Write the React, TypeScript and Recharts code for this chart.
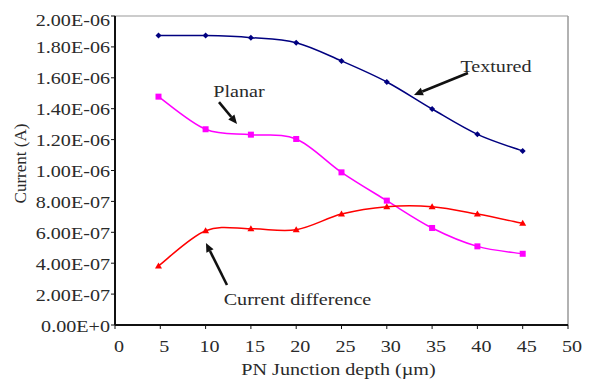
import {
  LineChart,
  Line,
  XAxis,
  YAxis,
  ReferenceLine,
  ReferenceDot,
  Label,
} from "recharts";

// PN junction depth (µm)
const depth = [4.8, 10, 15, 20, 25, 30, 35, 40, 45];
// currents (A)
const textured = [1.873e-6, 1.873e-6, 1.86e-6, 1.827e-6, 1.709e-6, 1.573e-6, 1.398e-6, 1.234e-6, 1.126e-6];
const planar = [1.478e-6, 1.267e-6, 1.232e-6, 1.204e-6, 0.988e-6, 0.805e-6, 0.628e-6, 0.509e-6, 0.461e-6];
const currentDiff = [0.382e-6, 0.61e-6, 0.623e-6, 0.617e-6, 0.718e-6, 0.766e-6, 0.766e-6, 0.718e-6, 0.658e-6];

const xTicks = [0, 5, 10, 15, 20, 25, 30, 35, 40, 45, 50];
const yTicks = [0, 2e-7, 4e-7, 6e-7, 8e-7, 1e-6, 1.2e-6, 1.4e-6, 1.6e-6, 1.8e-6, 2e-6];
const yTickLabels = [
  "0.00E+0",
  "2.00E-07",
  "4.00E-07",
  "6.00E-07",
  "8.00E-07",
  "1.00E-06",
  "1.20E-06",
  "1.40E-06",
  "1.60E-06",
  "1.80E-06",
  "2.00E-06",
];

// callouts: text position and arrow (from -> to), in data units
const callouts = [
  { text: "Textured", tx: 42.05, ty: 1.638e-6, from: [38.96, 1.631e-6], to: [33.0, 1.489e-6] },
  { text: "Planar", tx: 13.69, ty: 1.476e-6, from: [11.48, 1.443e-6], to: [13.47, 1.301e-6] },
  { text: "Current difference", tx: 20.14, ty: 0.129e-6, from: [12.36, 0.259e-6], to: [10.04, 0.531e-6] },
];

const data = depth.map((d, i) => ({
  depth: d,
  textured: textured[i],
  planar: planar[i],
  diff: currentDiff[i],
}));

const FONT = "'Liberation Serif', 'Times New Roman', serif";
const SX = 1.22;
const FS = 16.5;
const INK = "#2a2a2a";

// excel-like smoothing (catmull-rom)
const smooth = (ctx: any) => {
  let pts: number[][] = [];
  return {
    areaStart() {},
    areaEnd() {},
    lineStart() {
      pts = [];
    },
    point(x: number, y: number) {
      pts.push([x, y]);
    },
    lineEnd() {
      if (!pts.length) return;
      ctx.moveTo(pts[0][0], pts[0][1]);
      for (let i = 0; i < pts.length - 1; i++) {
        const p0 = pts[i - 1] || pts[i];
        const p1 = pts[i];
        const p2 = pts[i + 1];
        const p3 = pts[i + 2] || pts[i + 1];
        ctx.bezierCurveTo(
          p1[0] + (p2[0] - p0[0]) / 6,
          p1[1] + (p2[1] - p0[1]) / 6,
          p2[0] - (p3[0] - p1[0]) / 6,
          p2[1] - (p3[1] - p1[1]) / 6,
          p2[0],
          p2[1]
        );
      }
    },
  };
};

const StretchText = ({ x, y, anchor = "middle", children, size = FS }: any) => (
  <text
    transform={`translate(${x},${y}) scale(${SX},1)`}
    textAnchor={anchor}
    fontFamily={FONT}
    fontSize={size}
    fill={INK}
  >
    {children}
  </text>
);

const XTick = ({ x, y, payload }: any) => (
  <StretchText x={x + 4} y={y + 21}>
    {payload.value}
  </StretchText>
);

const YTick = ({ x, y, payload }: any) => {
  const i = yTicks.indexOf(payload.value);
  const dy = payload.value === 2e-6 ? 10 : 6.5;
  return (
    <StretchText x={x + 1} y={y + dy} anchor="end">
      {yTickLabels[i]}
    </StretchText>
  );
};

const Diamond = ({ cx, cy }: any) => (
  <polygon points={`${cx},${cy - 3} ${cx + 3},${cy} ${cx},${cy + 3} ${cx - 3},${cy}`} fill="#000080" />
);
const Square = ({ cx, cy }: any) => <rect x={cx - 3} y={cy - 3} width={6} height={6} fill="#ff00ff" />;
const Triangle = ({ cx, cy }: any) => (
  <polygon points={`${cx},${cy - 3.5} ${cx + 3.5},${cy + 2.5} ${cx - 3.5},${cy + 2.5}`} fill="#ff0000" />
);

const Arrow = ({ x1, y1, x2, y2 }: any) => {
  const a = Math.atan2(y2 - y1, x2 - x1);
  const len = 9;
  const w = 4;
  const bx = x2 - len * Math.cos(a);
  const by = y2 - len * Math.sin(a);
  const px = -Math.sin(a) * w;
  const py = Math.cos(a) * w;
  return (
    <g>
      <line x1={x1} y1={y1} x2={bx} y2={by} stroke="#111" strokeWidth={2.6} />
      <polygon points={`${x2},${y2} ${bx + px},${by + py} ${bx - px},${by - py}`} fill="#111" />
    </g>
  );
};

export default function App() {
  return (
    <div style={{ position: "absolute", left: 0, top: 0, background: "#fff" }}>
      <LineChart width={589} height={381} data={data} margin={{ top: 16, right: 21, bottom: 0, left: 0 }}>
        <XAxis
          dataKey="depth"
          type="number"
          domain={[0, 50]}
          ticks={xTicks}
          interval={0}
          allowDataOverflow
          tick={<XTick />}
          tickSize={4}
          height={56}
          axisLine={{ stroke: "#111", strokeWidth: 2 }}
          tickLine={{ stroke: "#111" }}
        >
          <Label
            content={({ viewBox }: any) => (
              <StretchText x={viewBox.x + viewBox.width / 2 - 3} y={viewBox.y + 50}>
                PN Junction depth (µm)
              </StretchText>
            )}
          />
        </XAxis>
        <YAxis
          type="number"
          domain={[0, 2e-6]}
          ticks={yTicks}
          interval={0}
          allowDataOverflow
          tick={<YTick />}
          tickSize={4}
          width={115}
          axisLine={{ stroke: "#111", strokeWidth: 2 }}
          tickLine={{ stroke: "#111" }}
        >
          <Label
            content={({ viewBox }: any) => (
              <text
                transform={`translate(26,${viewBox.y + viewBox.height / 2 - 7}) rotate(-90)`}
                textAnchor="middle"
                fontFamily={FONT}
                fontSize={17}
                fill={INK}
              >
                Current (A)
              </text>
            )}
          />
        </YAxis>
        <ReferenceLine y={2e-6} stroke="#999" strokeWidth={1} />
        <ReferenceLine x={50} stroke="#999" strokeWidth={1.5} />

        <Line
          dataKey="textured"
          type={smooth as any}
          stroke="#000080"
          strokeWidth={1.5}
          dot={(p: any) => <Diamond key={p.index} {...p} />}
          isAnimationActive={false}
        />
        <Line
          dataKey="planar"
          type={smooth as any}
          stroke="#ff00ff"
          strokeWidth={1.5}
          dot={(p: any) => <Square key={p.index} {...p} />}
          isAnimationActive={false}
        />
        <Line
          dataKey="diff"
          type={smooth as any}
          stroke="#ff0000"
          strokeWidth={1.5}
          dot={(p: any) => <Triangle key={p.index} {...p} />}
          isAnimationActive={false}
        />

        {callouts.map((c) => (
          <ReferenceLine
            key={c.text + "-arrow"}
            segment={[
              { x: c.from[0], y: c.from[1] },
              { x: c.to[0], y: c.to[1] },
            ]}
            shape={(p: any) => <Arrow {...p} />}
          />
        ))}
        {callouts.map((c) => (
          <ReferenceDot
            key={c.text}
            x={c.tx}
            y={c.ty}
            r={0}
            shape={(p: any) => (
              <StretchText x={p.cx} y={p.cy}>
                {c.text}
              </StretchText>
            )}
          />
        ))}
      </LineChart>
    </div>
  );
}
